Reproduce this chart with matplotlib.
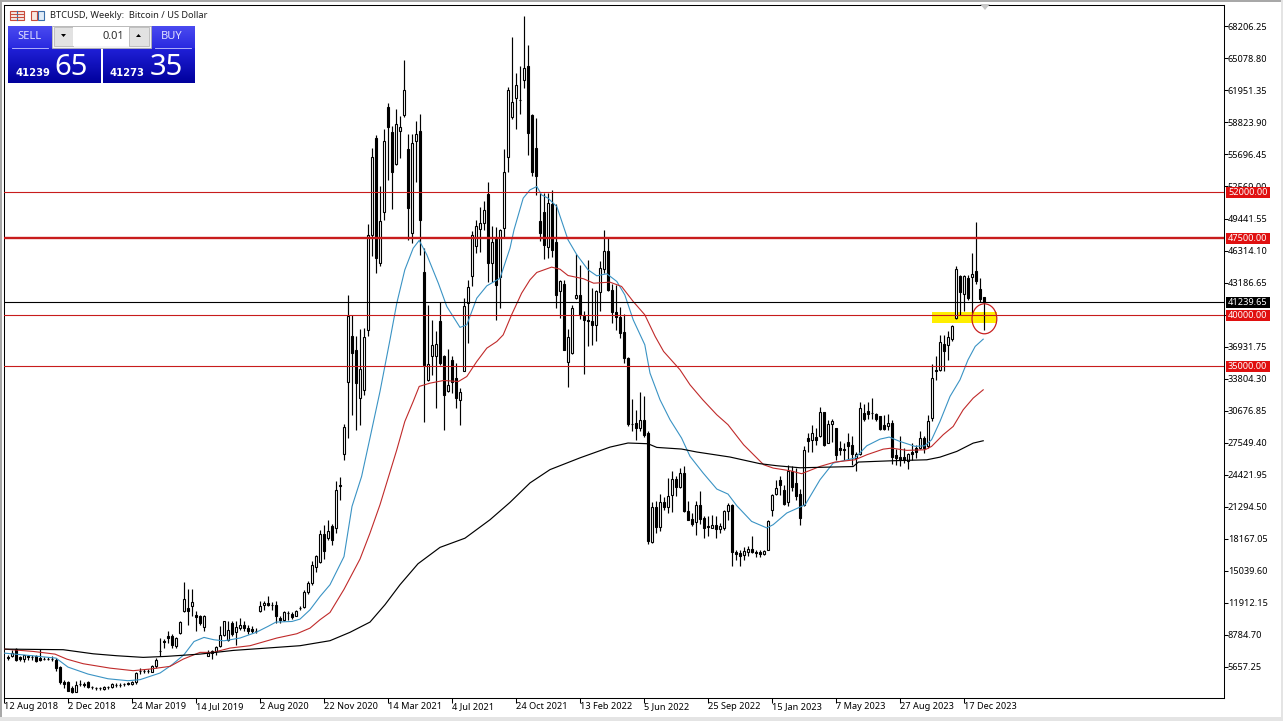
import numpy as np
import matplotlib
matplotlib.use("Agg")
import matplotlib.pyplot as plt
from matplotlib.patches import Rectangle, Ellipse, Polygon

# ---- weekly candles, USD thousands ----
opens = [6.55,6.65,7.36,6.58,6.42,6.67,6.56,6.65,6.48,6.43,
6.43,6.43,6.32,5.6,4.14,4.14,3.55,3.19,3.98,3.91,
4.1,3.66,3.56,3.53,3.42,3.63,3.65,3.85,3.89,3.95,
4.01,3.9,4.1,5.22,5.22,5.22,5.11,5.73,7.21,8.12,
8.66,8.66,7.69,8.92,11.04,11.37,11.53,10.72,10.55,9.48,
6.71,7.13,7.13,7.62,8.76,8.27,9.9,8.99,9.41,9.74,
9.41,9.32,9.16,11.11,11.63,11.86,11.7,11.69,10.39,10.23,
10.89,10.81,10.62,11.38,11.43,12.93,13.81,15.34,15.86,18.63,
18.21,19.35,19.19,23.36,26.42,33.45,37.98,36.61,31.89,32.64,
38.56,47.85,57.29,45.08,50.06,60.29,57.88,54.75,58.04,59.57,
56.25,48.07,57.06,58.0,44.26,33.68,36.05,35.96,39.38,35.96,
32.6,35.63,33.84,31.66,34.49,41.17,43.87,46.8,48.4,48.99,
51.85,45.08,47.52,43.77,48.5,55.5,59.41,61.2,61.05,62.93,
64.36,59.57,56.31,49.21,50.03,46.7,50.87,47.1,42.31,43.06,
35.37,36.28,41.66,41.98,39.96,39.54,39.44,39.08,42.24,44.49,
46.28,42.47,40.32,39.8,38.34,35.8,29.39,29.45,28.96,29.78,
28.47,17.79,21.24,19.26,21.73,21.21,22.38,24.01,23.2,24.56,
20.82,20.07,19.74,21.41,20.17,19.36,19.19,19.52,19.09,19.22,
20.82,21.47,16.81,16.75,16.52,16.85,17.14,16.88,16.88,16.68,
17.01,20.92,22.55,23.91,22.94,21.7,24.73,23.59,22.55,21.47,
27.98,27.82,28.08,28.15,30.49,27.49,29.35,28.96,27.0,26.94,
27.59,27.33,26.03,26.45,30.42,30.65,30.43,30.36,30.1,29.28,
29.12,29.45,26.35,26.12,26.12,25.77,26.58,27.0,27.0,27.98,
27.17,29.93,34.6,34.66,37.2,37.03,37.65,39.7,43.87,42.05,
43.61,43.68,44.33,42.57,41.76]

closes = [6.45,6.97,6.32,6.38,6.74,6.63,6.54,6.22,6.25,6.41,
6.41,6.41,5.5,4.14,3.97,3.29,3.13,3.88,3.96,3.89,
3.62,3.64,3.54,3.51,3.65,3.61,3.97,3.83,3.87,3.93,
3.99,4.14,5.02,5.2,5.2,5.2,5.73,6.32,7.19,8.1,
8.44,7.78,8.44,10.0,12.25,11.04,11.95,10.49,9.9,10.62,
6.97,6.97,7.56,8.76,10.06,9.25,8.86,9.48,9.74,9.41,
9.09,9.15,9.14,11.6,11.86,11.69,11.68,10.55,10.23,10.94,
10.87,10.49,11.11,11.36,12.93,13.81,15.6,16.42,18.63,16.9,
18.93,18.05,22.93,23.34,29.05,39.93,36.28,33.35,34.72,37.85,
47.84,55.5,45.63,49.15,57.03,58.43,54.03,58.66,58.37,62.01,
50.5,56.8,57.68,49.3,35.14,35.2,37.1,37.2,35.3,32.21,
33.19,33.51,31.88,32.47,40.91,42.73,47.84,48.72,48.98,50.29,
45.14,47.1,42.96,48.27,53.97,62.0,60.81,62.5,61.03,64.13,
57.84,54.03,53.64,48.0,46.87,51.0,46.38,41.92,43.35,36.6,
37.85,40.71,41.92,40.03,39.48,39.38,39.08,42.31,44.59,46.28,
42.41,40.35,39.8,38.3,35.8,29.35,29.37,28.96,29.78,28.31,
17.89,21.24,19.26,21.73,21.21,22.28,24.01,23.2,24.56,20.82,
20.0,19.61,21.41,20.07,19.19,19.34,19.52,19.09,19.35,20.88,
21.47,16.81,16.68,16.49,16.91,17.14,16.81,16.75,16.68,16.94,
19.91,22.45,23.1,23.36,21.57,24.8,23.16,22.28,20.17,26.84,
27.66,28.47,27.82,30.52,27.33,29.38,29.61,26.35,26.84,26.78,
27.17,26.45,26.45,30.91,29.84,30.29,30.41,29.84,28.89,28.89,
29.45,26.12,26.03,25.8,25.86,26.45,26.45,26.58,27.98,27.0,
29.67,33.84,34.58,37.36,36.45,37.85,38.89,44.49,42.21,43.84,
41.66,44.0,43.35,41.59,41.24]

highs = [6.81,7.23,7.46,6.65,6.81,6.81,6.74,6.74,7.36,6.58,
6.58,6.65,6.48,5.67,4.3,4.2,3.71,4.2,4.3,4.1,
4.2,3.78,3.65,3.68,3.78,3.71,4.04,4.04,4.04,4.04,
4.1,4.2,5.11,5.5,5.44,5.44,5.83,6.48,8.44,8.34,
9.15,8.86,8.53,10.06,13.91,13.26,13.26,11.04,10.72,10.72,
7.3,7.3,7.69,9.58,10.13,10.06,10.06,10.06,10.39,10.06,
9.74,9.58,9.41,12.02,12.02,12.57,11.95,12.02,10.55,11.04,
11.04,10.98,11.2,11.6,13.09,13.97,16.0,16.58,19.02,19.5,
20.0,19.58,23.81,24.17,29.35,41.98,40.03,37.91,38.63,38.73,
48.9,56.38,57.6,52.63,58.2,60.71,58.5,60.16,59.47,64.94,
57.71,57.7,59.0,59.64,46.54,41.0,39.54,38.46,41.33,36.1,
36.7,36.02,35.3,32.86,41.66,43.45,48.2,49.25,50.55,51.17,
52.99,48.66,48.6,48.4,56.2,62.27,67.16,63.71,64.39,69.24,
66.41,59.67,59.24,51.92,51.9,51.9,52.24,50.87,43.4,43.4,
38.66,40.94,45.99,44.91,40.42,45.4,42.63,42.47,45.24,48.33,
47.52,43.06,42.96,40.84,40.09,35.9,31.8,30.75,32.5,32.05,
28.64,21.7,21.86,22.51,22.2,24.07,24.8,24.3,25.05,25.28,
21.8,20.66,21.8,22.77,20.33,20.33,20.49,20.4,19.68,20.98,
21.63,21.54,17.07,17.07,17.3,17.4,18.44,17.07,17.07,17.07,
20.0,22.55,23.85,24.24,23.42,25.31,25.22,25.05,23.0,27.17,
28.47,29.22,28.96,31.01,30.52,29.78,29.84,29.0,27.65,27.49,
28.47,28.14,26.58,31.5,31.33,31.5,31.89,30.42,30.16,30.26,
30.33,29.71,26.9,28.14,27.0,26.5,27.49,27.33,28.63,28.14,
30.26,35.24,36.0,38.08,38.08,38.4,39.05,44.82,43.94,43.94,
43.94,46.06,49.12,43.61,41.76]

lows = [6.32,6.55,6.22,6.16,6.06,6.32,6.32,6.06,6.16,6.25,
6.25,6.22,5.18,3.97,3.55,3.22,3.06,3.13,3.71,3.62,
3.55,3.5,3.39,3.32,3.32,3.45,3.55,3.62,3.62,3.78,
3.84,3.81,3.97,4.95,4.98,5.02,5.08,5.5,6.65,7.46,
7.95,7.46,7.46,8.86,10.94,9.67,10.55,9.15,9.74,9.09,
6.65,6.42,6.81,7.56,8.66,8.17,8.6,7.78,9.25,9.09,
8.86,8.92,8.92,10.94,11.14,11.53,11.2,9.9,9.9,10.13,
10.16,10.29,10.55,11.2,11.37,12.74,13.65,14.85,15.77,16.19,
18.05,17.56,18.7,21.89,25.8,27.98,30.26,28.73,29.22,32.21,
38.0,45.73,44.1,44.8,49.25,53.22,50.39,54.68,55.34,59.41,
47.3,47.03,52.96,45.89,29.6,33.6,34.16,30.97,35.08,28.79,
32.47,32.37,30.97,29.28,34.49,37.32,42.8,46.05,46.2,48.3,
43.2,43.28,39.54,40.74,47.5,53.97,59.2,58.17,59.64,62.24,
55.6,53.55,51.75,47.2,45.47,45.57,45.66,40.68,39.7,36.6,
32.96,36.2,41.56,39.64,34.26,36.94,37.1,37.49,40.45,44.1,
42.31,39.2,38.56,37.75,35.3,29.2,28.64,27.76,28.64,28.08,
17.66,17.73,18.7,18.87,21.0,20.66,20.75,22.28,23.1,20.72,
19.94,19.42,18.54,19.61,18.2,18.44,19.19,18.2,18.7,19.03,
19.94,15.51,16.1,15.45,16.03,16.42,16.75,16.36,16.32,16.58,
17.0,20.4,22.45,22.45,21.47,21.37,22.77,21.96,19.52,21.37,
26.58,26.58,27.33,28.05,27.17,27.5,27.6,25.8,26.35,25.86,
25.86,25.37,24.72,26.35,29.61,29.84,29.84,29.61,28.8,28.8,
28.8,25.47,25.37,25.28,25.54,24.95,25.86,26.03,26.9,26.51,
27.0,29.7,33.68,34.5,34.56,35.63,37.5,39.6,40.03,40.36,
41.5,40.19,43.06,41.33,38.5]

# ---- moving averages: bar position, USD thousands ----
blue_pos = [-1,6,12,15,20,25,30,33,38,41,44,46.5,49,51.5,54,58,62,65,67,71,73,75.5,78,80.5,84,86,88.4,90.5,
            93,95.5,97.2,99.2,101.3,102.8,104.7,107.6,109.7,113,114.7,117.2,119.7,123,125.5,126.5,128.8,130.5,
            132.2,133.4,135,137.2,140,142.2,145,147.2,149.7,152.2,154.2,156.3,159.2,160.5,163,165.5,168.4,170.5,
            173.8,177.2,180,182.2,185.9,189.7,191.3,194.7,198,199.3,203,206.3,211.75,214.7,218,220.3,223,226.8,
            229.2,230.9,233,235.5,238,240,241.8,243.8]
blue_val = [6.97,6.71,6.48,5.6,4.92,4.46,4.27,4.37,5.02,5.83,6.81,8.1,8.5,8.27,8.17,8.44,8.99,9.58,10.0,10.06,10.29,
            11.2,12.5,13.65,16.4,21.3,24.23,28.0,32.54,37.6,41.17,44.42,46.54,47.3,45.9,43.1,40.84,38.8,39.05,41.66,
            42.86,43.6,46.54,48.33,51.43,52.24,52.57,51.75,51.43,50.61,47.36,45.9,44.43,43.84,44.04,43.29,41.98,
            39.54,37.1,34.33,31.73,29.78,27.98,26.2,24.56,23.0,22.51,21.37,19.84,19.2,19.52,20.66,21.24,21.47,23.91,
            25.54,26.03,27.23,27.88,28.08,27.65,27.17,27.23,27.82,29.61,32.05,33.68,35.63,36.94,37.65]

red_pos = [-1,6.3,11.75,14.7,18.8,25.5,31.3,35.5,40.5,43.8,48,51.3,55.5,60.5,67.2,72.2,75.5,78,80.5,84,88,90.5,93,
           97.2,99.2,101.3,102.8,105.5,108.9,112.6,114.7,117.2,119.7,122.2,123.8,125.9,128.4,130.5,132.2,135.9,138,
           140,143.9,146.4,150.5,153.4,156.3,159.2,161.8,163.9,168,170.5,173.7,177.2,180,183.9,188.9,191.3,195.5,
           198.4,203,206.75,211.75,214.7,218.8,220.9,224.7,229.25,230.9,233.8,236.3,238.8,241.3,243.8]
red_val = [7.36,7.13,6.87,6.38,5.93,5.5,5.25,5.41,5.67,6.38,7.04,7.04,7.46,7.69,8.44,8.86,9.41,10.23,10.94,13.2,16.16,
           18.7,21.47,26.84,29.6,31.56,33.03,33.35,33.61,33.51,34.0,35.47,36.77,37.42,38.07,40.03,42.14,43.45,44.17,
           44.69,44.49,43.87,43.55,43.12,43.22,42.8,41.33,40.03,37.91,36.45,34.66,33.19,31.72,30.26,29.29,27.33,25.38,
           25.05,24.79,24.5,25.21,25.64,25.86,26.35,26.9,27.0,26.78,26.84,27.17,28.31,29.12,30.75,31.89,32.7]

black_pos = [-1,13.8,21.3,27.2,33.8,39.7,48,56.3,64.7,73,80.5,85.5,90.5,94.25,98,102.5,108,114.25,120.5,125.5,130.5,
             135.5,143,150.5,155,160,162.2,168.4,172.2,180.5,188,192.2,198,211.3,212.6,221.3,229.7,233,237.2,241.3,243.8]
black_val = [7.36,7.3,6.9,6.71,6.55,6.65,6.87,7.23,7.46,7.69,8.18,9.0,10.0,11.7,13.65,15.7,17.3,18.2,20.0,21.7,23.6,
             24.9,26.05,27.1,27.5,27.43,27.07,26.91,26.62,26.13,25.48,25.28,25.08,25.2,25.64,25.77,25.86,26.12,26.68,
             27.49,27.72]

level_prices = [52000.0, 47500.0, 40000.0, 35000.0]
level_widths = [0.8, 1.7, 0.8, 0.8]
bid_price = 41239.65

price_ticks = [68206.25,65078.80,61951.35,58823.90,55696.45,52569.00,49441.55,46314.10,43186.65,40059.20,
               36931.75,33804.30,30676.85,27549.40,24421.95,21294.50,18167.05,15039.60,11912.15,8784.70,5657.25]
date_labels = ["12 Aug 2018","2 Dec 2018","24 Mar 2019","14 Jul 2019","2 Aug 2020","22 Nov 2020","14 Mar 2021",
               "4 Jul 2021","24 Oct 2021","13 Feb 2022","5 Jun 2022","25 Sep 2022","15 Jan 2023","7 May 2023",
               "27 Aug 2023","17 Dec 2023"]
date_positions = [-1 + 16 * k for k in range(len(date_labels))]

plt.rcParams['font.family'] = ['Noto Sans', 'DejaVu Sans']
W, H = 1283, 721
fig = plt.figure(figsize=(W / 100, H / 100), dpi=100, facecolor='white')

ax = fig.add_axes([4 / W, 1 - 698 / H, (1224 - 4) / W, (698 - 5) / H])
ax.set_xlim(-1, 304)
ax.set_ylim(2580, 70307)
ax.set_facecolor('white')
for s in ax.spines.values():
    s.set_linewidth(0.75)
    s.set_color('black')

o = np.array(opens) * 1000
c = np.array(closes) * 1000
h = np.array(highs) * 1000
l = np.array(lows) * 1000
x = np.arange(len(o))

# yellow zone sits behind the candles
ax.add_patch(Rectangle((231, 39250), 16.25, 1070, facecolor='#ffee00', edgecolor='none', zorder=1))

ax.vlines(x, l, h, color='black', lw=0.85, zorder=2)
fills = ['black' if cc < oo else 'white' for oo, cc in zip(o, c)]
ax.bar(x, np.abs(c - o), bottom=np.minimum(o, c), width=0.5, color=fills, edgecolor='black', linewidth=0.8, zorder=3)

ax.plot(blue_pos, np.array(blue_val) * 1000, color='#3a93c4', lw=0.8, zorder=4)
ax.plot(red_pos, np.array(red_val) * 1000, color='#c02a2a', lw=0.8, zorder=4)
ax.plot(black_pos, np.array(black_val) * 1000, color='black', lw=0.85, zorder=4)

for p, w in zip(level_prices, level_widths):
    ax.axhline(p, color='#c81c1c', lw=w, zorder=5)
ax.axhline(bid_price, color='black', lw=0.8, zorder=5)
ax.add_patch(Ellipse((244.1, 39640), 6.2, 2930, facecolor='none', edgecolor='#c82020', lw=0.9, zorder=6))

ax.yaxis.tick_right()
ax.set_yticks(price_ticks)
ax.set_yticklabels([f"{v:.2f}" for v in price_ticks])
ax.set_xticks(date_positions)
ax.set_xticklabels(date_labels, ha='left')
ax.tick_params(axis='y', length=2.8, width=0.75, pad=0, labelsize=6.6, labelcolor='black')
ax.tick_params(axis='x', length=3.5, width=0.75, pad=-0.7, labelsize=6.6, labelcolor='black')

# pixel-space overlay for the terminal chrome
ov = fig.add_axes([0, 0, 1, 1], zorder=10)
ov.set_xlim(0, W)
ov.set_ylim(H, 0)
ov.axis('off')
ov.patch.set_alpha(0)

# window edges
ov.add_patch(Rectangle((0, 0), 1.6, H, color='#a8a8a8', lw=0))
ov.add_patch(Rectangle((0, 0), W, 1.6, color='#a8a8a8', lw=0))
ov.add_patch(Rectangle((1281, 0), 2, H, color='#e4e4e4', lw=0))
ov.add_patch(Rectangle((0, 717), W, 4, color='#e4e4e4', lw=0))
ov.add_patch(Polygon([(980, 4), (990, 4), (985, 10)], closed=True, color='#c8c8c8', lw=0))

# right-hand price tags
def tag(price, txt, col):
    y = 315.3 - (price - 40000) / 97.73
    ov.add_patch(Rectangle((1226, y - 5.5), 44, 11, facecolor=col, edgecolor='none', zorder=3))
    ov.text(1228, y, txt, color='white', fontsize=6.6, va='center', ha='left', zorder=4)

for p in level_prices:
    tag(p, f"{p:.2f}", '#e01010')
tag(bid_price, f"{bid_price:.2f}", 'black')

# title and icons
ov.text(50, 15, "BTCUSD, Weekly:  Bitcoin / US Dollar", fontsize=6.7, va='center', ha='left', color='#202020')
ov.add_patch(Rectangle((9.5, 11), 14, 9, facecolor='#f4e4e0', edgecolor='#c84a3a', lw=0.8))
ov.plot([16.5, 16.5], [11, 20], color='#3a6ea8', lw=0.8)
for yy in (14, 17):
    ov.plot([10.5, 22.5], [yy, yy], color='#c84a3a', lw=0.7)
ov.add_patch(Rectangle((30.5, 11), 6, 9, facecolor='#f8e8e0', edgecolor='#c84a3a', lw=0.8))
ov.add_patch(Rectangle((38, 11), 6, 9, facecolor='#e0ecf8', edgecolor='#3a6ea8', lw=0.8))

# one-click trading panel
grad = np.linspace(0, 1, 64).reshape(-1, 1)
def gradbox(x0, x1, y0, y1, top='#4444ee', bottom='#0000a8'):
    t = np.array(matplotlib.colors.to_rgb(top))
    b = np.array(matplotlib.colors.to_rgb(bottom))
    img = (t * (1 - grad[..., None]) + b * grad[..., None])
    ov.imshow(img, extent=(x0, x1, y1, y0), aspect='auto', zorder=2, interpolation='bilinear')

gradbox(8, 52, 26, 48, '#4a4af0', '#2a2ae0')
gradbox(151, 195, 26, 48, '#4a4af0', '#2a2ae0')
gradbox(8, 100.5, 48, 83, '#2020d8', '#00009c')
gradbox(103, 195, 48, 83, '#2020d8', '#00009c')
ov.set_xlim(0, W)
ov.set_ylim(H, 0)
ov.add_patch(Rectangle((52, 26), 99, 22, facecolor='#f4f4f4', edgecolor='#b0b0b0', lw=0.6, zorder=3))
ov.add_patch(Rectangle((54, 27), 19, 19, facecolor='#e2e2e2', edgecolor='#b8b8b8', lw=0.6, zorder=4))
ov.add_patch(Rectangle((129, 27), 20, 19, facecolor='#e2e2e2', edgecolor='#b8b8b8', lw=0.6, zorder=4))
ov.add_patch(Rectangle((73, 27), 56, 19, facecolor='white', edgecolor='none', zorder=4))
ov.add_patch(Polygon([(61, 34), (66, 34), (63.5, 37)], closed=True, color='black', lw=0, zorder=5))
ov.add_patch(Polygon([(136, 37), (141, 37), (138.5, 34)], closed=True, color='black', lw=0, zorder=5))
ov.text(124.5, 36.5, "0.01", fontsize=8, color='#303030', ha='right', va='center', zorder=6)
ov.plot([12, 48], [48, 48], color='#c8c8ff', lw=0.6, zorder=5)
ov.plot([155, 191], [48, 48], color='#c8c8ff', lw=0.6, zorder=5)
ov.text(29.5, 36.5, "SELL", fontsize=8, color='#e0e0ff', ha='center', va='center', zorder=6)
ov.text(172, 36.5, "BUY", fontsize=8, color='#e0e0ff', ha='center', va='center', zorder=6)
ov.text(16, 72.5, "41239", fontsize=7.2, color='white', ha='left', va='center', fontweight='bold',
        family='DejaVu Sans', zorder=6)
ov.text(110, 72.5, "41273", fontsize=7.2, color='white', ha='left', va='center', fontweight='bold',
        family='DejaVu Sans', zorder=6)
ov.text(54.5, 67.5, "65", fontsize=21, color='white', ha='left', va='center', zorder=6)
ov.text(149.5, 67.5, "35", fontsize=21, color='white', ha='left', va='center', zorder=6)

fig.savefig('out.png', dpi=100, facecolor='white')
